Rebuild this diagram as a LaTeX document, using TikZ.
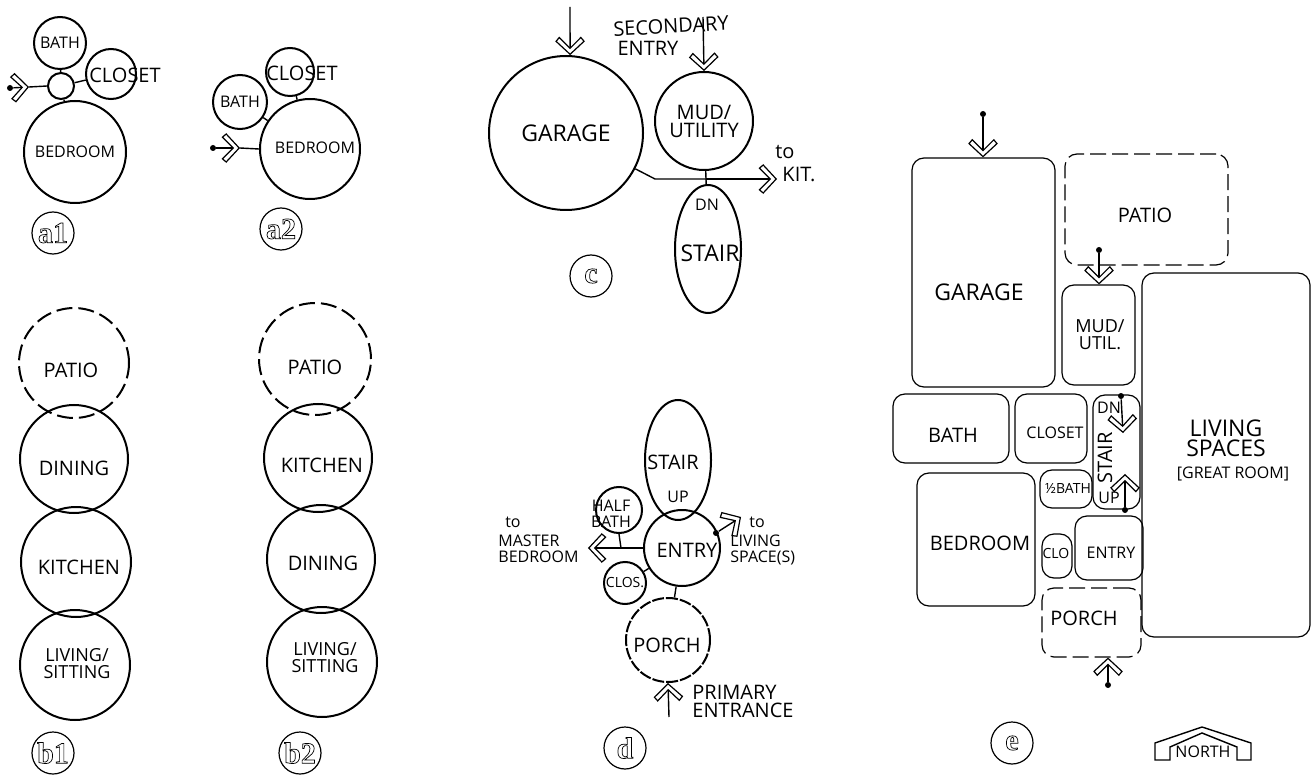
\documentclass[tikz,border=0pt]{standalone}
\usepackage{fontspec}
\setmainfont{Open Sans}
\newfontfamily\tagfont{Liberation Serif}[BoldFont=* Bold]
\usetikzlibrary{arrows.meta, shapes.geometric}

\newcommand{\hollow}[1]{\special{pdf:code 1 Tr 0.35 w}#1\special{pdf:code 0 Tr}}

\pgfdeclarearrow{
  name=Hollow Vee,
  setup code={
    \pgfarrowssettipend{0.4pt}
    \pgfarrowssetlineend{-2.8pt}
    \pgfarrowssetbackend{-9pt}
    \pgfarrowssetvisualbackend{-9pt}
  },
  drawing code={
    \pgfsetlinewidth{.6pt}
    \pgfsetdash{}{0pt}
    \pgfsetmiterjoin
    \pgfsetfillcolor{white}
    \pgfpathmoveto{\pgfpoint{0pt}{0pt}}
    \pgfpathlineto{\pgfpoint{-6.5pt}{7pt}}
    \pgfpathlineto{\pgfpoint{-8.4pt}{5.4pt}}
    \pgfpathlineto{\pgfpoint{-3pt}{0pt}}
    \pgfpathlineto{\pgfpoint{-8.4pt}{-5.4pt}}
    \pgfpathlineto{\pgfpoint{-6.5pt}{-7pt}}
    \pgfpathclose
    \pgfusepathqfillstroke
  }
}

\tikzset{
  room/.style={circle, draw, line width=1pt, inner sep=0pt, minimum size=#1*1pt, align=center},
  outdoor/.style={room=#1, dash pattern=on 8pt off 3pt},
  oval/.style={ellipse, draw, line width=1pt, inner sep=0pt},
  tagring/.style={circle, draw, line width=.6pt, inner sep=0pt, minimum size=21pt, font=\tagfont\bfseries\fontsize{15}{15}\selectfont},
  plan/.style={rectangle, draw, line width=.6pt, rounded corners=6pt, inner sep=0pt},
  planout/.style={plan, dash pattern=on 8pt off 3pt},
  word/.style={inner sep=0pt, align=center},
  xs/.style={font=\fontsize{7}{8}\selectfont},
  sm/.style={font=\fontsize{8}{8}\selectfont},
  md/.style={font=\fontsize{10}{9}\selectfont},
  lg/.style={font=\fontsize{11.5}{11}\selectfont},
  tight/.style={font=\fontsize{9}{8.5}\selectfont},
  link/.style={line width=.7pt},
  flow/.style={line width=.7pt, -{Hollow Vee}},
  tail/.style={circle, fill, inner sep=0pt, minimum size=3pt}
}

\begin{document}
\begin{tikzpicture}[x=0.5pt, y=-0.5pt]
  \useasboundingbox (0,0) rectangle (1312,775);

  % a1
  \node[room=26, sm] (aBath) at (60,43) {BATH};
  \node[room=13] (aHall) at (61,86) {};
  \node[room=25] (aCloset) at (111,74) {};
  \node[word, md] (aClosetT) at (125,75) {CLOSET};
  \node[room=51, sm] (aBed) at (75,152) {BEDROOM};
  \node[tagring] (aTag) at (53,233) {\hollow{a1}};
  \node[tail] (aIn) at (10,88) {};
  \coordinate (aTip) at (29,87);
  \draw[flow] (aIn) -- (aTip);
  \draw[link] (aTip) -- (aHall.west);
  \draw[link] (aHall) -- (aBath);
  \draw[link] (aHall) -- (aCloset);
  \draw[link] (aHall) -- (aBed);

  % a2
  \node[room=27, sm] (bBath) at (240,102) {BATH};
  \node[room=24] (bCloset) at (290,72) {};
  \node[word, md] (bClosetT) at (302,73) {CLOSET};
  \node[room=50] (bBed) at (310,149) {};
  \node[word, sm] (bBedT) at (315,148) {BEDROOM};
  \node[tagring] (bTag) at (281,229) {\hollow{a2}};
  \node[tail] (bIn) at (213,148) {};
  \coordinate (bTip) at (240,148);
  \draw[flow] (bIn) -- (bTip);
  \draw[link] (bTip) -- (bBed.west);
  \draw[link] (bBath) -- (bBed);
  \draw[link] (bCloset) -- (bBed);

  % b1
  \node[outdoor=55] (cPatio) at (74,363) {};
  \node[room=54] (cDining) at (74,459) {};
  \node[room=55] (cKitchen) at (76,562) {};
  \node[room=55] (cLiving) at (75,665) {};
  \node[word, md] (cPatioT) at (71,370) {PATIO};
  \node[word, md] (cDiningT) at (74,468) {DINING};
  \node[word, md] (cKitchenT) at (79,567) {KITCHEN};
  \node[word, tight] (cLivingT) at (77,664) {LIVING/\\SITTING};
  \node[tagring] (cTag) at (53,753) {\hollow{b1}};

  % b2
  \node[outdoor=56] (dPatio) at (315,359) {};
  \node[room=54] (dKitchen) at (318,458) {};
  \node[room=54] (dDining) at (321,559) {};
  \node[room=55] (dLiving) at (322,662) {};
  \node[word, md] (dPatioT) at (315,367) {PATIO};
  \node[word, md] (dKitchenT) at (322,465) {KITCHEN};
  \node[word, md] (dDiningT) at (323,563) {DINING};
  \node[word, tight] (dLivingT) at (325,658) {LIVING/\\SITTING};
  \node[tagring] (dTag) at (300,753) {\hollow{b2}};

  % c
  \node[room=77, lg] (eGarage) at (566,133) {GARAGE};
  \node[room=49, md] (eMud) at (704,121) {MUD/\\UTILITY};
  \node[oval, minimum width=33pt, minimum height=64pt] (eStair) at (708,249) {};
  \node[word, sm] (eDn) at (707,205) {DN};
  \node[word, lg] (eStairT) at (710,253) {STAIR};
  \node[tagring] (eTag) at (591,276) {\hollow{c}};
  \node[word, md, rotate=3] (eSecond) at (671,26) {SECONDARY};
  \node[word, md] (eEntry) at (648,48) {ENTRY};
  \node[word, md] (eTo) at (785,152) {to};
  \node[word, md] (eKit) at (799,175) {KIT.};
  \coordinate (eTop) at (570,7);
  \coordinate (eSide) at (703,17);
  \coordinate (eBend) at (655,179);
  \coordinate (eJoin) at (706,179);
  \coordinate (eOut) at (777,179);
  \draw[flow] (eTop) -- (eGarage.87);
  \draw[flow] (eSide) -- (eMud.north);
  \draw[link] (eGarage) -- (eBend) -- (eJoin);
  \draw[flow] (eJoin) -- (eOut);
  \draw[link] (eMud) -- (eJoin);
  \draw[link] (eJoin) -- (eStair);

  % d
  \node[oval, minimum width=33pt, minimum height=60pt] (fStair) at (678,460) {};
  \node[word, md] (fStairT) at (673,462) {STAIR};
  \node[word, sm] (fUp) at (678,497) {UP};
  \node[room=38] (fEntry) at (682,548) {};
  \node[word, md] (fEntryT) at (687,550) {ENTRY};
  \node[room=23] (fHalf) at (619,510) {};
  \node[word, sm] (fHalfT) at (611,514) {HALF\\BATH};
  \node[room=21, xs] (fClos) at (625,583) {CLOS.};
  \node[outdoor=42, dash pattern=on 6pt off 1pt] (fPorch) at (668,640) {};
  \node[word, md] (fPorchT) at (667,645) {PORCH};
  \node[tagring] (fTag) at (625,748) {\hollow{d}};
  \node[word, sm] (fTo) at (513,522) {to};
  \node[word, sm, anchor=west, align=left] (fMaster) at (498,549) {MASTER\\BEDROOM};
  \node[word, sm, anchor=west, align=left] (fLiving) at (730,550) {LIVING\\SPACE(S)};
  \node[word, sm] (fToL) at (757,522) {to};
  \node[word, md, anchor=west, align=left] (fPrimary) at (692,701) {PRIMARY\\ENTRANCE};
  \coordinate (fJoin) at (621,548);
  \coordinate (fOut) at (588,548);
  \coordinate (fSide) at (741,517);
  \coordinate (fIn) at (669,717);
  \node[tail] (fDot) at (716,533) {};
  \draw[link] (fEntry.west) -- (fJoin);
  \draw[flow] (fJoin) -- (fOut);
  \draw[link] (fHalf.south) -- (fJoin);
  \draw[link] (fClos) -- (fEntry);
  \draw[link] (fEntry) -- (fPorch);
  \draw[flow] (fDot) -- (fSide);
  \draw[flow] (fIn) -- (fPorch.south);

  % e
  \foreach \nm/\xa/\ya/\xb/\yb/\sty in {
    gGarage/912/158/1055/387/plan,
    gPatio/1065/154/1228/265/planout,
    gMud/1062/285/1135/385/plan,
    gLiving/1142/273/1310/637/plan,
    gBath/893/394/1009/463/plan,
    gCloset/1015/394/1087/463/plan,
    gStair/1093/395/1140/509/plan,
    gHalf/1040/470/1092/508/plan,
    gBed/917/473/1035/606/plan,
    gClo/1042/534/1072/578/plan,
    gEntry/1075/516/1143/580/plan,
    gPorch/1042/588/1141/657/planout}
  {
    \node[\sty, minimum width=(\xb-\xa)*.5pt, minimum height=(\yb-\ya)*.5pt] (\nm) at ({(\xa+\xb)/2},{(\ya+\yb)/2}) {};
  }
  \node[word, lg] (gGarageT) at (979,292) {GARAGE};
  \node[word, md] (gPatioT) at (1145,215) {PATIO};
  \node[word, tight] (gMudT) at (1100,335) {MUD/\\UTIL.};
  \node[word, font=\fontsize{11.5}{10}\selectfont] (gLivingT) at (1226,438) {LIVING\\SPACES};
  \node[word, sm] (gGreat) at (1233,474) {[GREAT ROOM]};
  \node[word, md] (gBathT) at (953,435) {BATH};
  \node[word, sm] (gClosetT) at (1055,433) {CLOSET};
  \node[word, xs] (gHalfT) at (1068,488) {½BATH};
  \node[word, md] (gBedT) at (980,543) {BEDROOM};
  \node[word, xs] (gCloT) at (1056,553) {CLO};
  \node[word, sm] (gEntryT) at (1111,553) {ENTRY};
  \node[word, md] (gPorchT) at (1084,618) {PORCH};
  \node[word, md, rotate=90] (gStairT) at (1105,458) {STAIR};
  \node[word, sm] (gDn) at (1109,408) {DN};
  \node[word, sm] (gUp) at (1109,498) {UP};
  \node[tagring] (gTag) at (1012,743) {\hollow{e}};
  \node[tail] (gDnDot) at (1121,396) {};
  \node[tail] (gUpDot) at (1125,510) {};
  \coordinate (gDnTip) at (1123,433);
  \coordinate (gUpTip) at (1125,474);
  \draw[flow] (gDnDot) -- (gDnTip);
  \draw[flow] (gUpDot) -- (gUpTip);
  \node[tail] (gIn) at (983,114) {};
  \node[tail] (gSide) at (1099,250) {};
  \node[tail] (gFront) at (1108,685) {};
  \draw[flow] (gIn) -- (gIn |- gGarage.north);
  \draw[flow] (gSide) -- (gSide |- gMud.north);
  \draw[flow] (gFront) -- (gFront |- gPorch.south);

  % north sign
  \node[word, sm] (gNorth) at (1203,752) {NORTH};
  \draw[link] (1155,760) -- (1155,743) -- (1202,727) -- (1251,743) -- (1251,760) -- (1237,760) -- (1237,747) -- (1202,733) -- (1170,747) -- (1170,760) -- cycle;
\end{tikzpicture}
\end{document}
